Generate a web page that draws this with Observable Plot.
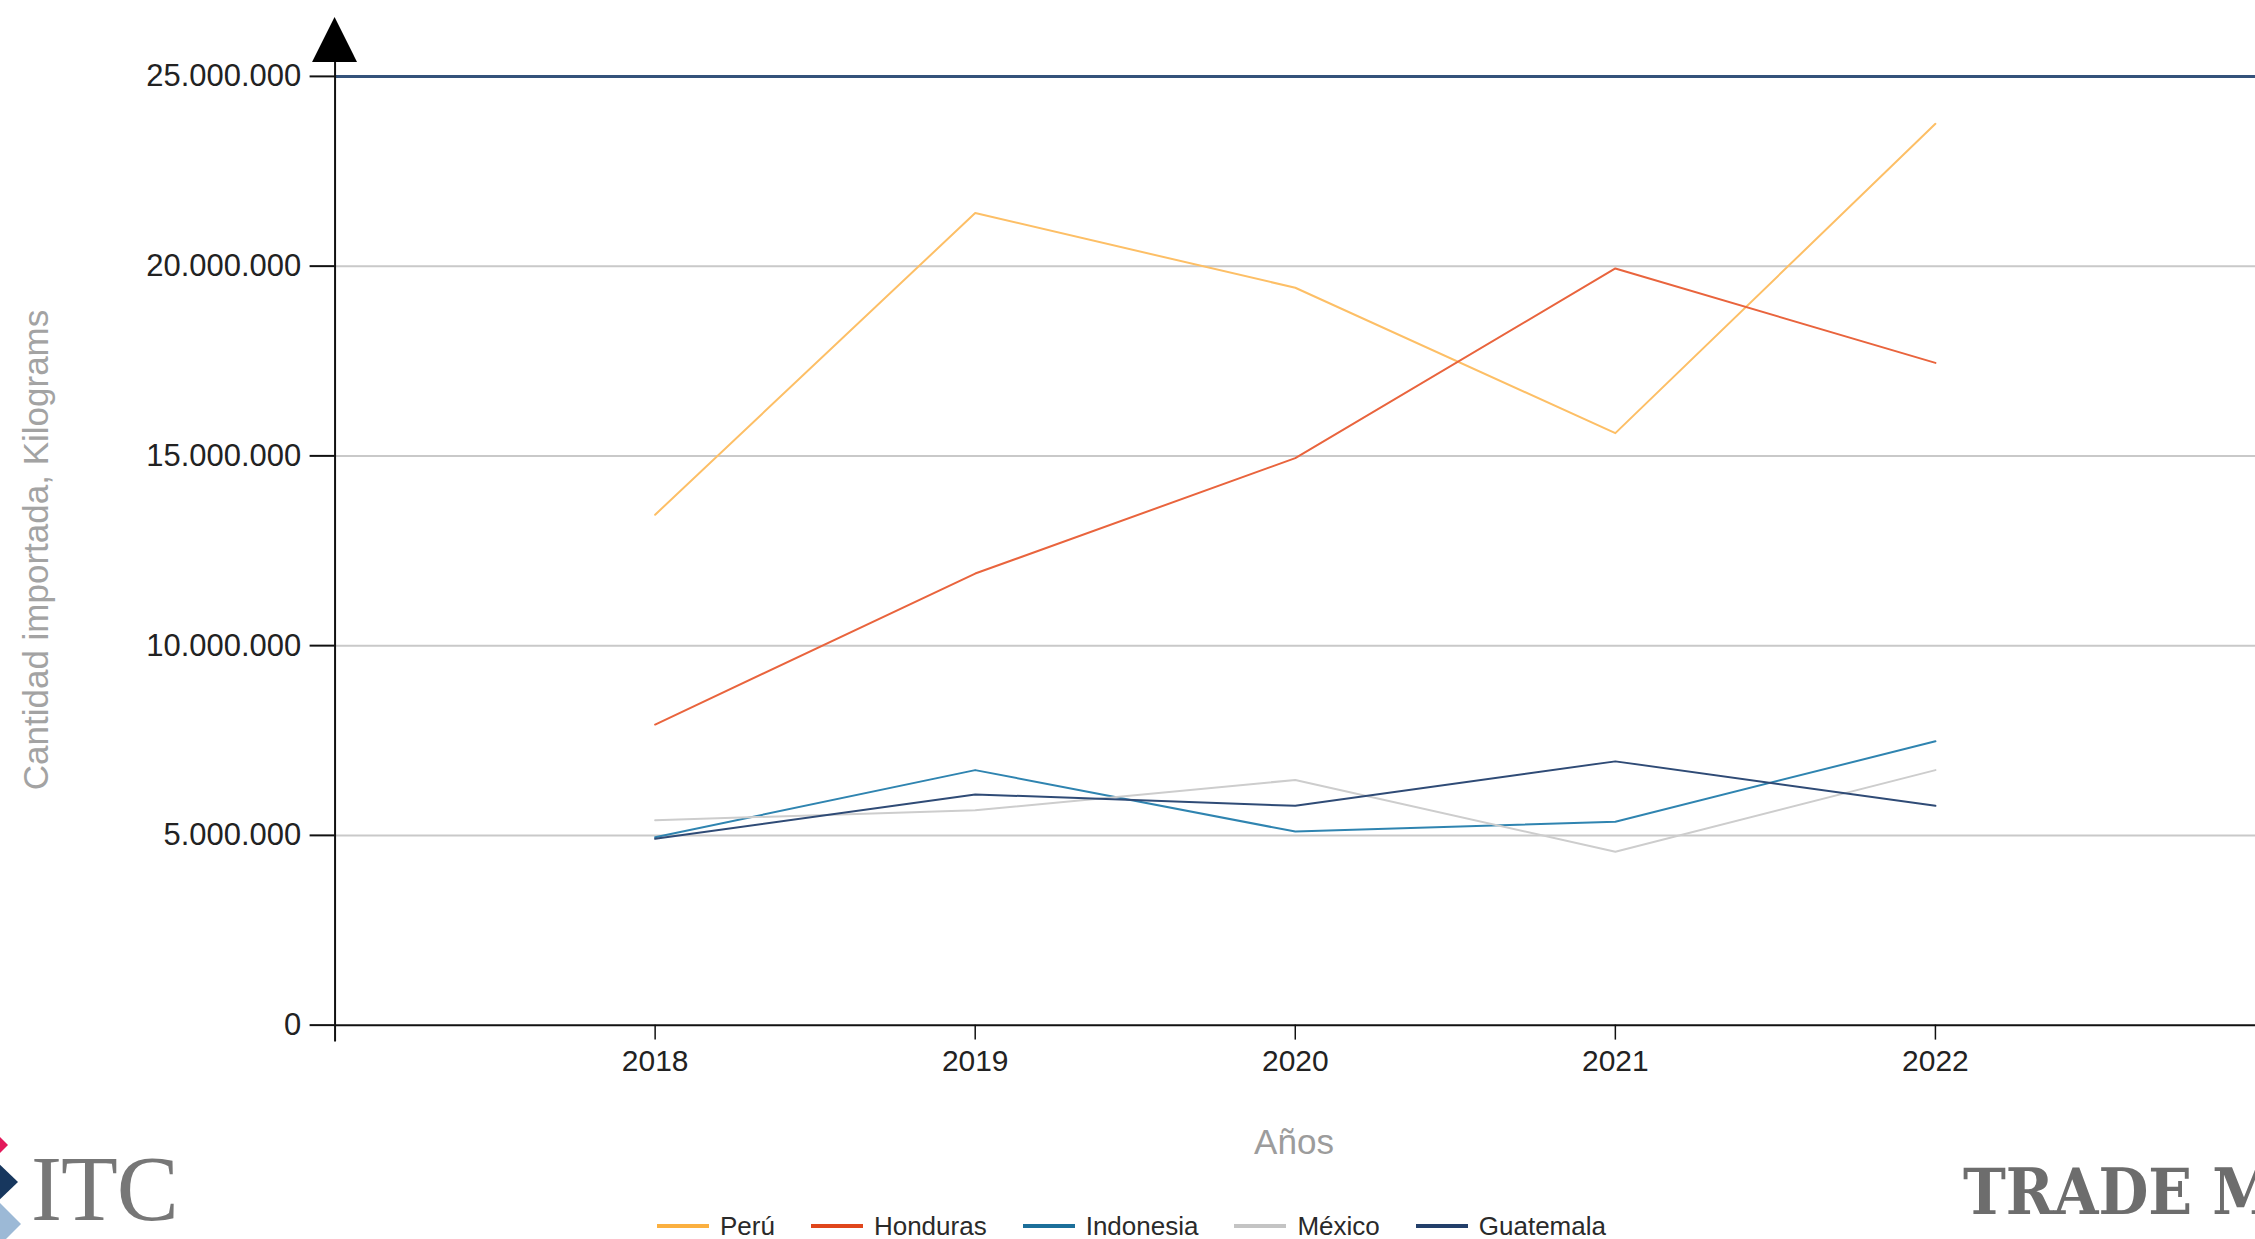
<!DOCTYPE html>
<html>
<head>
<meta charset="utf-8">
<script src="https://cdn.jsdelivr.net/npm/d3@7"></script>
<script src="https://cdn.jsdelivr.net/npm/@observablehq/plot@0.6"></script>
<style>
html, body { margin: 0; padding: 0; background: #fff; }
#wrap { position: relative; width: 2255px; height: 1239px; overflow: hidden; font-family: "Liberation Sans", Arial, sans-serif; background: #fff; }
#chart { position: absolute; left: 0; top: 0; }
.ylab { position: absolute; left: 36px; top: 550px; transform: translate(-50%, -50%) rotate(-90deg); white-space: nowrap; font-size: 35px; color: #a3a3a3; }
.xlab { position: absolute; left: 1294px; top: 1142px; transform: translate(-50%, -50%); white-space: nowrap; font-size: 35px; color: #9c9c9c; }
#legend { position: absolute; left: 657px; top: 1209px; height: 34px; display: flex; align-items: center; font-size: 26px; color: #2a2a2a; white-space: nowrap; }
#legend .item { display: flex; align-items: center; margin-right: 36px; }
#legend .sw { width: 52px; height: 4px; margin-right: 11px; }
.itc { position: absolute; left: 31px; top: 1154px; font-family: "Liberation Serif", serif; font-size: 93px; line-height: 70px; color: #777; letter-spacing: -1px; }
.tm { position: absolute; left: 1963px; top: 1152px; font-family: "DejaVu Serif", serif; font-stretch: condensed; font-weight: bold; font-size: 64px; line-height: 80px; color: #6d6d6d; white-space: nowrap; }
#logo { position: absolute; left: 0; top: 1130px; }
</style>
</head>
<body>
<div id="wrap">
  <div id="chart"></div>
  <div class="ylab">Cantidad importada, Kilograms</div>
  <div class="xlab">Años</div>
  <div id="legend"></div>
  <svg id="logo" width="30" height="109" viewBox="0 0 30 109">
    <polygon points="-5,2 8,15 -5,28 -18,15" fill="#e3195b"></polygon>
    <polygon points="-3,32 18,52 -3,72 -24,52" fill="#17375e"></polygon>
    <polygon points="-3,70 21,94 -3,118 -27,94" fill="#9cb9d6"></polygon>
  </svg>
  <div class="itc">ITC</div>
  <div class="tm">TRADE MAP</div>
</div>
<script>
// ---- data ----
const years = [2018, 2019, 2020, 2021, 2022];
const countries = ["Perú", "Honduras", "Indonesia", "México", "Guatemala"];
const peru      = [13450000, 21400000, 19430000, 15600000, 23750000];
const honduras  = [7920000, 11900000, 14940000, 19940000, 17450000];
const indonesia = [4950000, 6720000, 5100000, 5360000, 7480000];
const mexico    = [5400000, 5660000, 6460000, 4570000, 6720000];
const guatemala = [4910000, 6080000, 5780000, 6950000, 5780000];
const lineColors   = ["#fdbf66", "#e9643d", "#2f84b0", "#cdcdcd", "#2f4b76"];
const legendColors = ["#fbb040", "#e0461c", "#1c6f9a", "#c4c4c4", "#233f6a"];
const yTicks = [0, 5000000, 10000000, 15000000, 20000000, 25000000];
const gridTicks = [5000000, 10000000, 15000000, 20000000];
const xMin = 2017, xMax = 2023, yMax = 25000000;

const series = [peru, honduras, indonesia, mexico, guatemala];
const rows = countries.flatMap((c, i) => years.map((yr, j) => ({country: c, year: yr, value: series[i][j]})));

const fmt = d3.formatLocale({decimal: ",", thousands: ".", grouping: [3], currency: ["", ""]}).format(",d");

const chart = Plot.plot({
  width: 2258,
  height: 1239,
  marginLeft: 335,
  marginRight: 0,
  marginTop: 76,
  marginBottom: 213,
  style: {fontFamily: "Liberation Sans, Arial, sans-serif", fontSize: "31px", color: "#222", background: "transparent", overflow: "visible"},
  x: {domain: [xMin, xMax]},
  y: {domain: [0, yMax]},
  color: {domain: countries, range: lineColors},
  marks: [
    Plot.ruleY(gridTicks, {stroke: "#c9c9c9", strokeWidth: 2}),
    Plot.ruleY([yMax], {stroke: "#34527a", strokeWidth: 3}),
    Plot.ruleY([0], {stroke: "#111", strokeWidth: 2}),
    Plot.ruleX([xMin], {y1: yMax, y2: 0, stroke: "#111", strokeWidth: 2, insetTop: -16, insetBottom: -17}),
    Plot.axisY({ticks: yTicks, tickFormat: fmt, tickSize: 25, tickPadding: 9, label: null, fontSize: 31, stroke: "#111", strokeWidth: 2}),
    Plot.axisX({ticks: years, tickFormat: d => String(d), tickSize: 15, tickPadding: 10, label: null, fontSize: 30, stroke: "#111", strokeWidth: 1.5}),
    Plot.lineY(rows, {x: "year", y: "value", z: "country", stroke: "country", strokeWidth: 2})
  ]
});

// arrow head on top of the y axis, positioned from the scales
const ax = chart.scale("x").apply(xMin);
const ay = chart.scale("y").apply(yMax);
d3.select(chart).append("path")
  .attr("d", `M${ax},${ay - 59}L${ax - 22.5},${ay - 14}L${ax + 22.5},${ay - 14}Z`)
  .attr("fill", "#000");

document.getElementById("chart").appendChild(chart);

// legend
const legend = d3.select("#legend");
countries.forEach((c, i) => {
  const it = legend.append("div").attr("class", "item");
  it.append("div").attr("class", "sw").style("background", legendColors[i]);
  it.append("span").text(c);
});
</script>
</body>
</html>
